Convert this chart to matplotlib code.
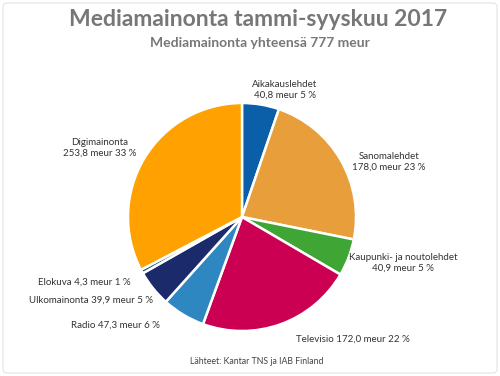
import matplotlib.pyplot as plt
from matplotlib.patches import FancyBboxPatch

# data
labels = ["Aikakauslehdet", "Sanomalehdet", "Kaupunki- ja noutolehdet", "Televisio",
          "Radio", "Ulkomainonta", "Elokuva", "Digimainonta"]
values = [40.8, 178.0, 40.9, 172.0, 47.3, 39.9, 4.3, 253.8]
percents = [5, 23, 5, 22, 6, 5, 1, 33]
colors = ["#0b5ea8", "#e89e3a", "#3fa535", "#cc0052", "#2f87c2", "#1b2a6b", "#1d4f6e", "#ffa100"]

# label anchor positions in pixels (x, y from top), and whether to split into two lines
label_pos = [(285, 90, True), (389, 162, True), (403, 263, True), (353, 339, False),
             (115, 325, False), (91, 300, False), (84, 282, False), (100, 148, True)]

plt.rcParams['font.family'] = ['Lato', 'DejaVu Sans']

fig = plt.figure(figsize=(5, 3.76), dpi=100)
ax = fig.add_axes([0, 0, 1, 1])

ax.add_patch(FancyBboxPatch((3, 3), 494, 370, boxstyle="round,pad=0,rounding_size=4",
                            fc='white', ec='#e4e4e4', lw=0.8))

ax.pie(values, colors=colors, startangle=90, counterclock=False,
       center=(242, 376 - 217), radius=114, frame=True,
       wedgeprops=dict(edgecolor='white', linewidth=1.8))
ax.set_xlim(0, 500)
ax.set_ylim(0, 376)
ax.set_aspect('equal')
ax.axis('off')

for lab, v, p, (px, py, two) in zip(labels, values, percents, label_pos):
    val = f"{v:.1f}".replace('.', ',') + f" meur {p} %"
    txt = f"{lab}\n{val}" if two else f"{lab} {val}"
    ax.text(px, 376 - py, txt, ha='center', va='center', fontsize=7,
            color='#333333', linespacing=1.3)

ax.text(258, 376 - 20, "Mediamainonta tammi-syyskuu 2017", ha='center', va='center',
        fontsize=16.5, fontweight='bold', color='#777777')
ax.text(260, 376 - 43, "Mediamainonta yhteensä 777 meur", ha='center', va='center',
        fontsize=10, fontweight='bold', color='#777777')
ax.text(257, 376 - 362, "Lähteet: Kantar TNS ja IAB Finland", ha='center', va='center',
        fontsize=6.3, color='#444444')

fig.savefig('out.png', dpi=100)
